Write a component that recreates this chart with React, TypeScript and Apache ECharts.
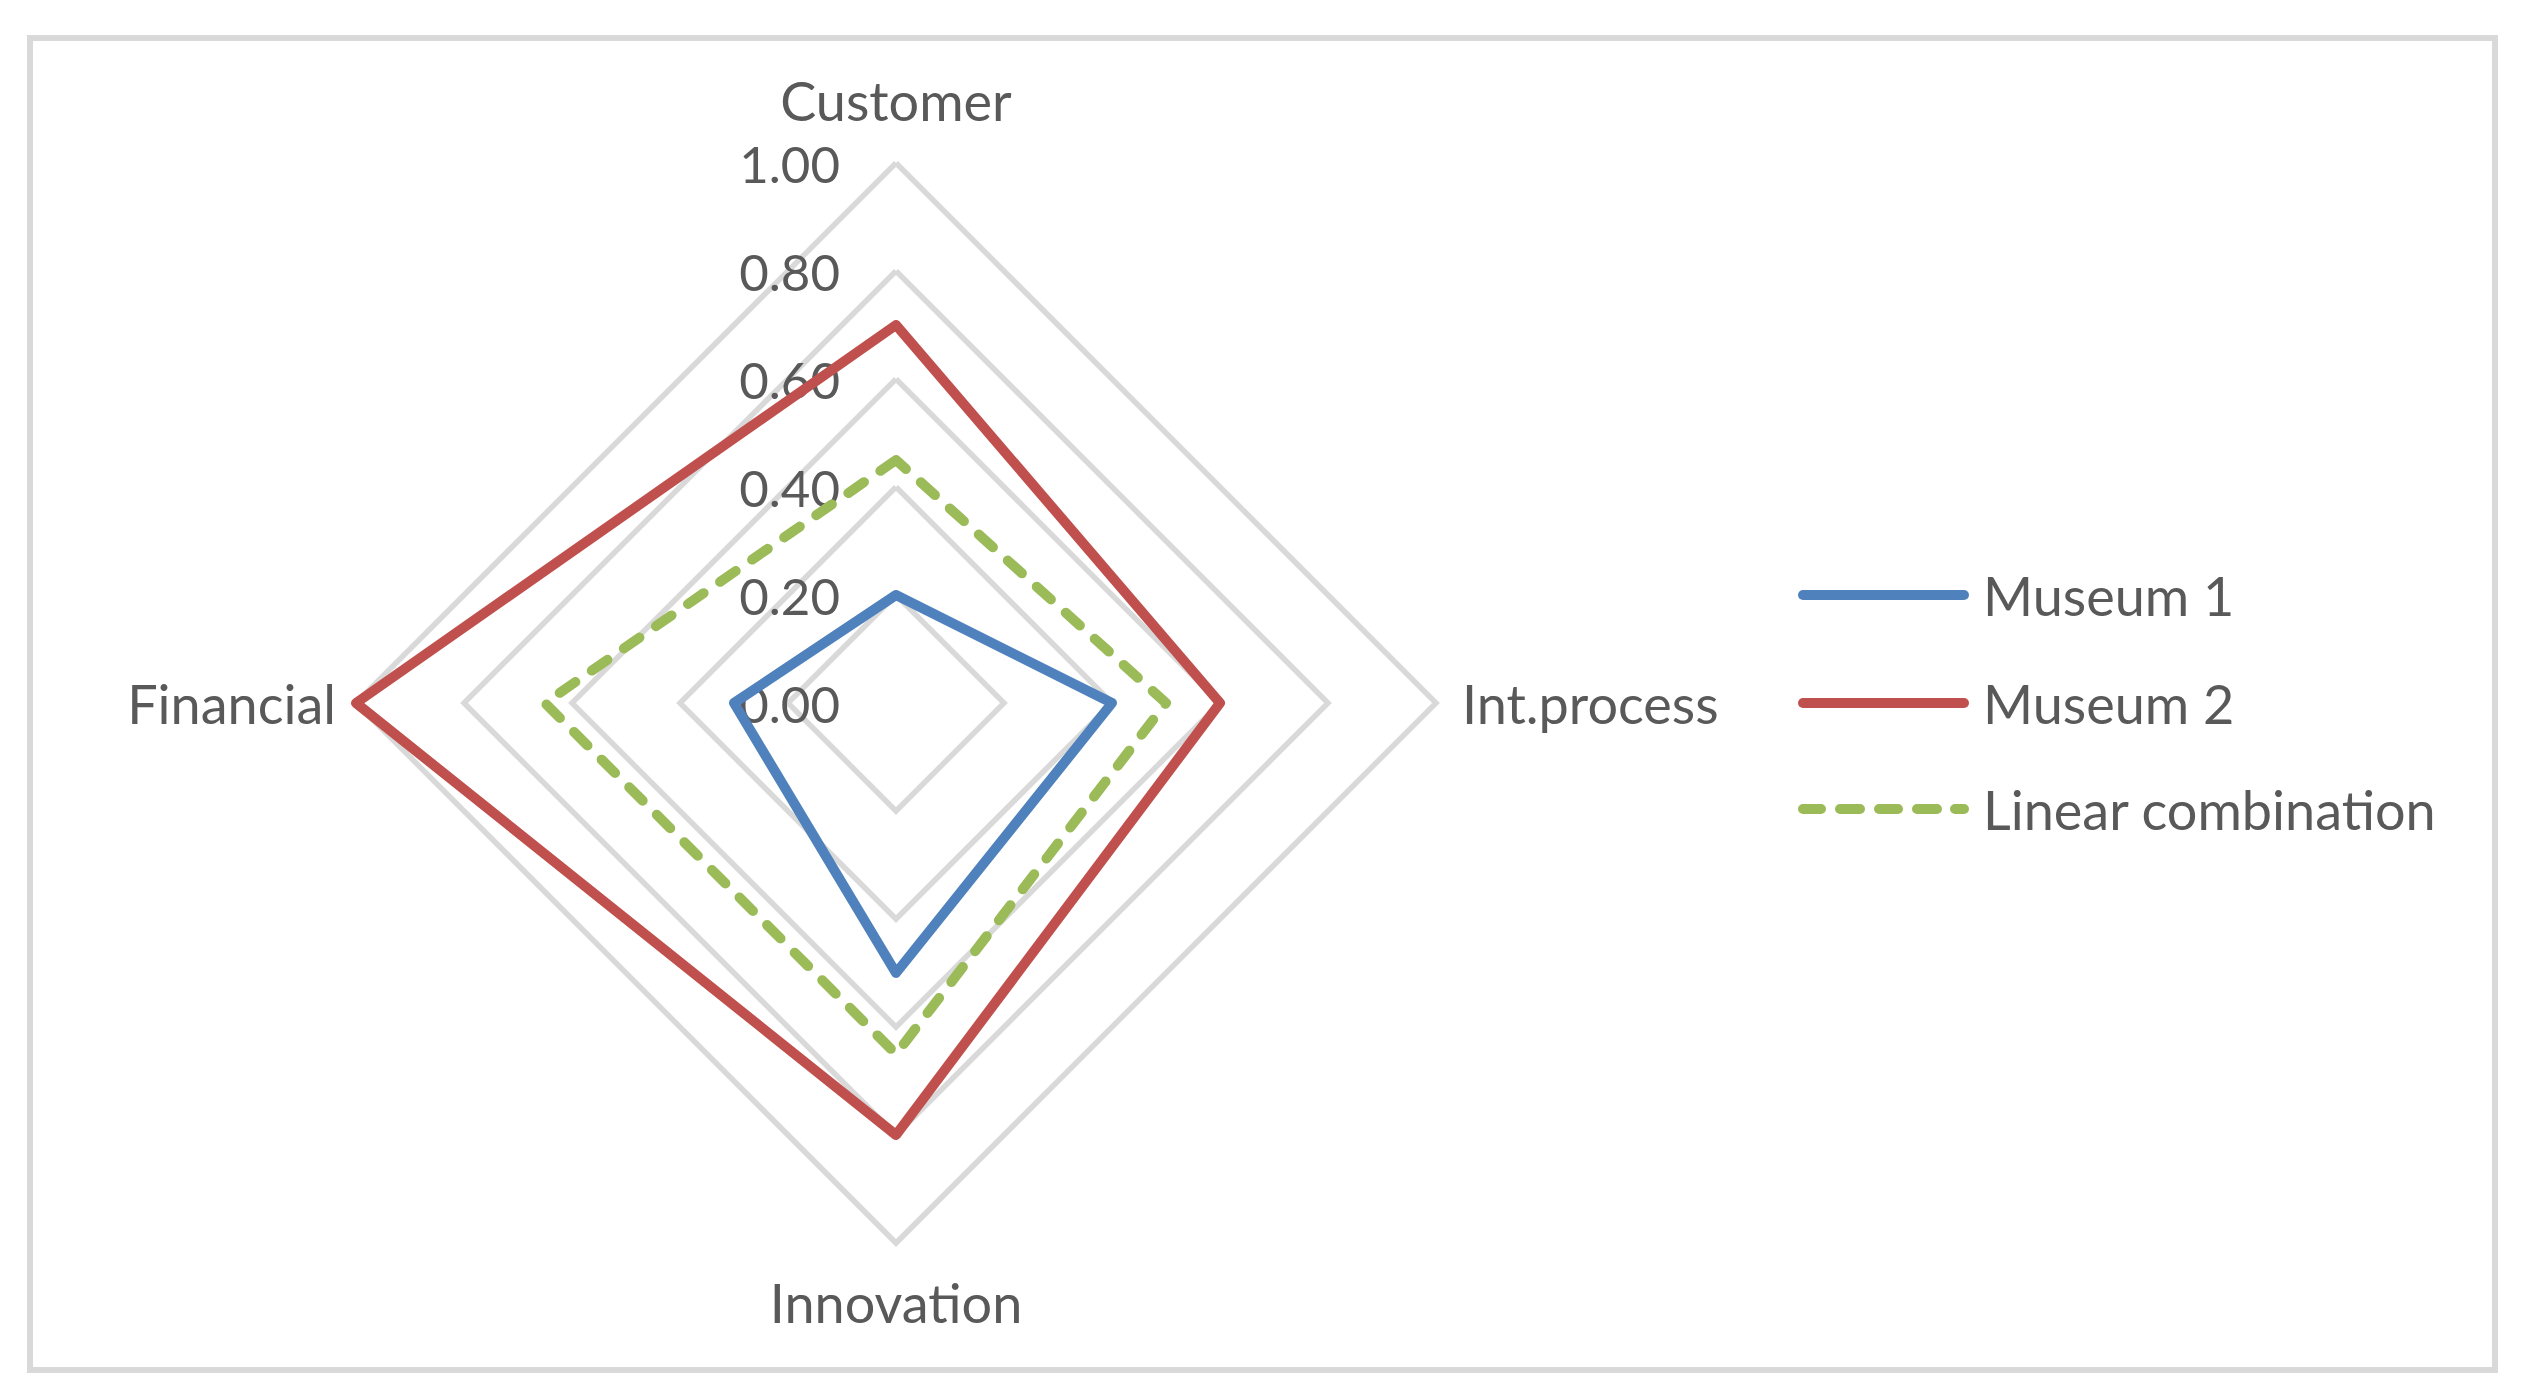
import React, { useEffect, useRef } from 'react';
import * as echarts from 'echarts';

// Indicators listed counter-clockwise starting at the top (ECharts radar order)
const indicatorNames = ['Customer', 'Financial', 'Innovation', 'Int.process'];
const museum1 = [0.2, 0.3, 0.5, 0.4];
const museum2 = [0.7, 1.0, 0.8, 0.6];
const linearCombination = [0.45, 0.65, 0.65, 0.5];
const seriesNames = ['Museum 1', 'Museum 2', 'Linear combination'];
const seriesColors = ['#4f81bd', '#c0504d', '#9bbb59'];
const axisMin = 0;
const axisMax = 1;
const splitCount = 5;

const FONT = 'Lato, "Open Sans", sans-serif';
const TEXT = '#595959';

const SOLID_ICON = 'path://M5,0 H166 A5,5 0 0 1 166,10 H5 A5,5 0 0 1 5,0 Z';
const DASH_ICON =
  'path://M5,0 H23 A5,5 0 0 1 23,10 H5 A5,5 0 0 1 5,0 Z ' +
  'M42,0 H62 A5,5 0 0 1 62,10 H42 A5,5 0 0 1 42,0 Z ' +
  'M81,0 H100 A5,5 0 0 1 100,10 H81 A5,5 0 0 1 81,0 Z ' +
  'M119,0 H139 A5,5 0 0 1 139,10 H119 A5,5 0 0 1 119,0 Z ' +
  'M157,0 H166 A5,5 0 0 1 166,10 H157 A5,5 0 0 1 157,0 Z';

export default function App() {
  const ref = useRef<HTMLDivElement>(null);
  useEffect(() => {
    if (!ref.current) return;
    const chart = echarts.init(ref.current, null, { renderer: 'svg' });
    const seriesData = [museum1, museum2, linearCombination];
    const legendCenters = [595, 703, 809];
    const nameGaps = [36, 20, 32, 26];
    chart.setOption({
      animation: false,
      backgroundColor: '#ffffff',
      graphic: [
        {
          type: 'rect',
          shape: { x: 30, y: 38, width: 2465, height: 1332 },
          style: { fill: 'none', stroke: '#d9d9d9', lineWidth: 6 },
          silent: true,
        },
      ],
      legend: seriesNames.map((n, i) => ({
        data: [n],
        left: 1798,
        top: legendCenters[i] - 30,
        padding: 0,
        itemWidth: 171,
        itemHeight: 10,
        icon: i === 2 ? DASH_ICON : SOLID_ICON,
        itemStyle: { borderWidth: 0 },
        selectedMode: false,
        textStyle: {
          color: TEXT,
          fontSize: 54,
          fontFamily: FONT,
          lineHeight: 60,
          padding: [0, 0, 0, 9],
        },
      })),
      radar: {
        center: [896, 703],
        radius: 540,
        startAngle: 90,
        shape: 'polygon',
        splitNumber: splitCount,
        nameGap: 26,
        axisName: { color: TEXT, fontSize: 54, fontFamily: FONT },
        axisLine: { show: false },
        axisTick: { show: false },
        splitArea: { show: false },
        splitLine: { lineStyle: { color: '#d9d9d9', width: 5.5 } },
        axisLabel: { show: false },
        indicator: indicatorNames.map((name, i) => ({
          name,
          min: axisMin,
          max: axisMax,
          nameGap: nameGaps[i],
          ...(i === 0
            ? {
                axisLabel: {
                  show: true,
                  color: TEXT,
                  fontSize: 51,
                  fontFamily: FONT,
                  margin: 56,
                  showMaxLabel: true,
                  showMinLabel: true,
                  formatter: (v: number) => v.toFixed(2),
                },
              }
            : {}),
        })),
      },
      series: [
        {
          type: 'radar',
          symbol: 'none',
          data: seriesNames.map((n, i) => ({
            name: n,
            value: seriesData[i],
            lineStyle: {
              color: seriesColors[i],
              width: 10,
              type: i === 2 ? [19, 20] : 'solid',
              cap: 'round',
              join: 'round',
            },
            itemStyle: { color: seriesColors[i] },
          })),
        },
      ],
    });
    return () => chart.dispose();
  }, []);
  return (
    <div
      ref={ref}
      style={{ position: 'fixed', left: 0, top: 0, width: '2528px', height: '1397px', background: '#fff' }}
    />
  );
}
